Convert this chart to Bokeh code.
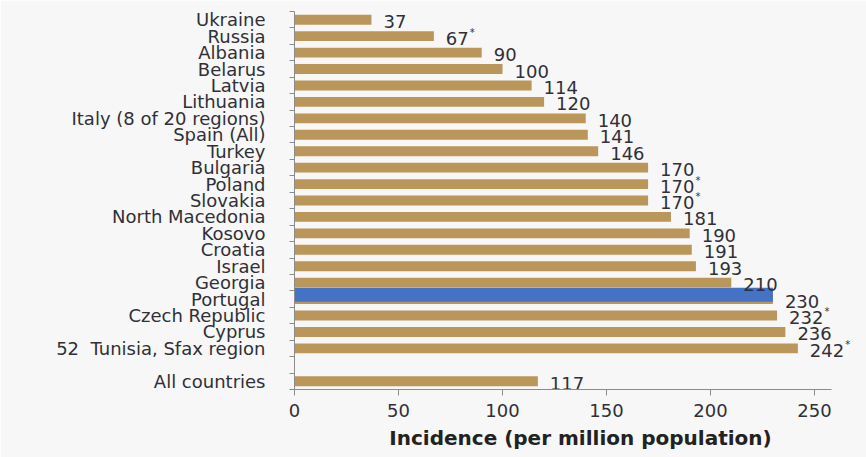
from bokeh.plotting import figure
from bokeh.models import ColumnDataSource, Range1d, FixedTicker
from bokeh.transform import dodge
from bokeh.embed import file_html
from bokeh.resources import INLINE
from bokeh.core.properties import value

# Incidence per million population, by country (top to bottom)
countries = [
    "Ukraine", "Russia", "Albania", "Belarus", "Latvia", "Lithuania",
    "Italy (8 of 20 regions)", "Spain (All)", "Turkey", "Bulgaria", "Poland",
    "Slovakia", "North Macedonia", "Kosovo", "Croatia", "Israel", "Georgia",
    "Portugal", "Czech Republic", "Cyprus", "52\u00a0\u00a0Tunisia, Sfax region",
]
incidence = [37, 67, 90, 100, 114, 120, 140, 141, 146, 170, 170,
             170, 181, 190, 191, 193, 210, 230, 232, 236, 242]
starred = [1, 10, 11, 18, 20]  # rows whose value carries an asterisk
highlight = "Portugal"

overall_label = "All countries"
overall_value = 117

x_ticks = [0, 50, 100, 150, 200, 250]
x_title = "Incidence (per million population)"

TAN = "#BA965B"
BLUE = "#4472C4"
BG = "#F7F7F7"
TEXT = "#303036"
AXIS = "#8C8C8C"
FONT = "DejaVu Sans"
FS = 18

# one row per country, a blank row, then the overall figure
rows = list(range(len(countries)))
overall_row = len(countries) + 1
n_rows = overall_row + 1

labels = list(countries) + [overall_label]
values = list(incidence) + [overall_value]
ypos = rows + [overall_row]

src = ColumnDataSource(dict(y=ypos, v=values, name=labels,
                            txt=[str(v) for v in values]))

p = figure(width=866, height=457, output_backend="svg", toolbar_location=None,
           x_range=Range1d(0, 275), y_range=Range1d(n_rows - 0.5, -0.5),
           min_border_left=294, min_border_right=0,
           min_border_top=11, min_border_bottom=68)
p.background_fill_color = BG
p.border_fill_color = BG
p.outline_line_color = None
p.grid.grid_line_color = None

p.hbar(y="y", right="v", left=0, height=0.6, source=src,
       fill_color=TAN, line_color=None)

# highlighted country drawn as a wider blue bar on top
hi = countries.index(highlight)
hsrc = ColumnDataSource(dict(y=[hi], v=[incidence[hi]]))
p.hbar(y=dodge("y", -0.27, range=p.y_range), right="v", left=0, height=0.85,
       source=hsrc, fill_color=BLUE, line_color=None)

p.text(x="v", y="y", text="txt", source=src, x_offset=12, y_offset=2,
       text_font=value(FONT), text_font_size=f"{FS}px", text_color=TEXT,
       text_baseline="middle", text_align="left")

# asterisk markers next to selected values
ssrc = ColumnDataSource(dict(
    y=[rows[i] for i in starred],
    v=[incidence[i] for i in starred],
    off=[12 + len(str(incidence[i])) * 0.636 * FS + 1 for i in starred],
))
p.text(x="v", y="y", text=value("*"), source=ssrc, x_offset="off", y_offset=-4,
       text_font=value(FONT), text_font_size="10px", text_color=TEXT,
       text_baseline="middle", text_align="left")

# y axis: names at row centres, small ticks between rows
ya = p.yaxis[0]
ya.ticker = FixedTicker(ticks=list(range(n_rows)),
                        minor_ticks=[i - 0.5 for i in range(n_rows + 1)])
overrides = {i: "" for i in range(n_rows)}
for y, name in zip(ypos, labels):
    overrides[y] = name
ya.major_label_overrides = overrides
ya.major_tick_line_color = None
ya.major_tick_out = 0
ya.major_tick_in = 0
ya.minor_tick_line_color = AXIS
ya.minor_tick_out = 5
ya.minor_tick_in = 0
ya.axis_line_color = AXIS
ya.major_label_standoff = 24
ya.major_label_text_font = FONT
ya.major_label_text_font_size = f"{FS}px"
ya.major_label_text_color = TEXT

xa = p.xaxis[0]
xa.ticker = FixedTicker(ticks=x_ticks, minor_ticks=[])
xa.bounds = (0, 258)
xa.axis_line_color = AXIS
xa.major_tick_line_color = AXIS
xa.major_tick_out = 6
xa.major_tick_in = 0
xa.major_label_standoff = 8
xa.major_label_text_font = FONT
xa.major_label_text_font_size = f"{FS}px"
xa.major_label_text_color = TEXT
xa.axis_label = x_title
xa.axis_label_standoff = 6
xa.axis_label_text_font = FONT
xa.axis_label_text_font_style = "bold"
xa.axis_label_text_font_size = "20px"
xa.axis_label_text_color = "#222222"

open("out.html", "w").write(file_html(p, INLINE))
